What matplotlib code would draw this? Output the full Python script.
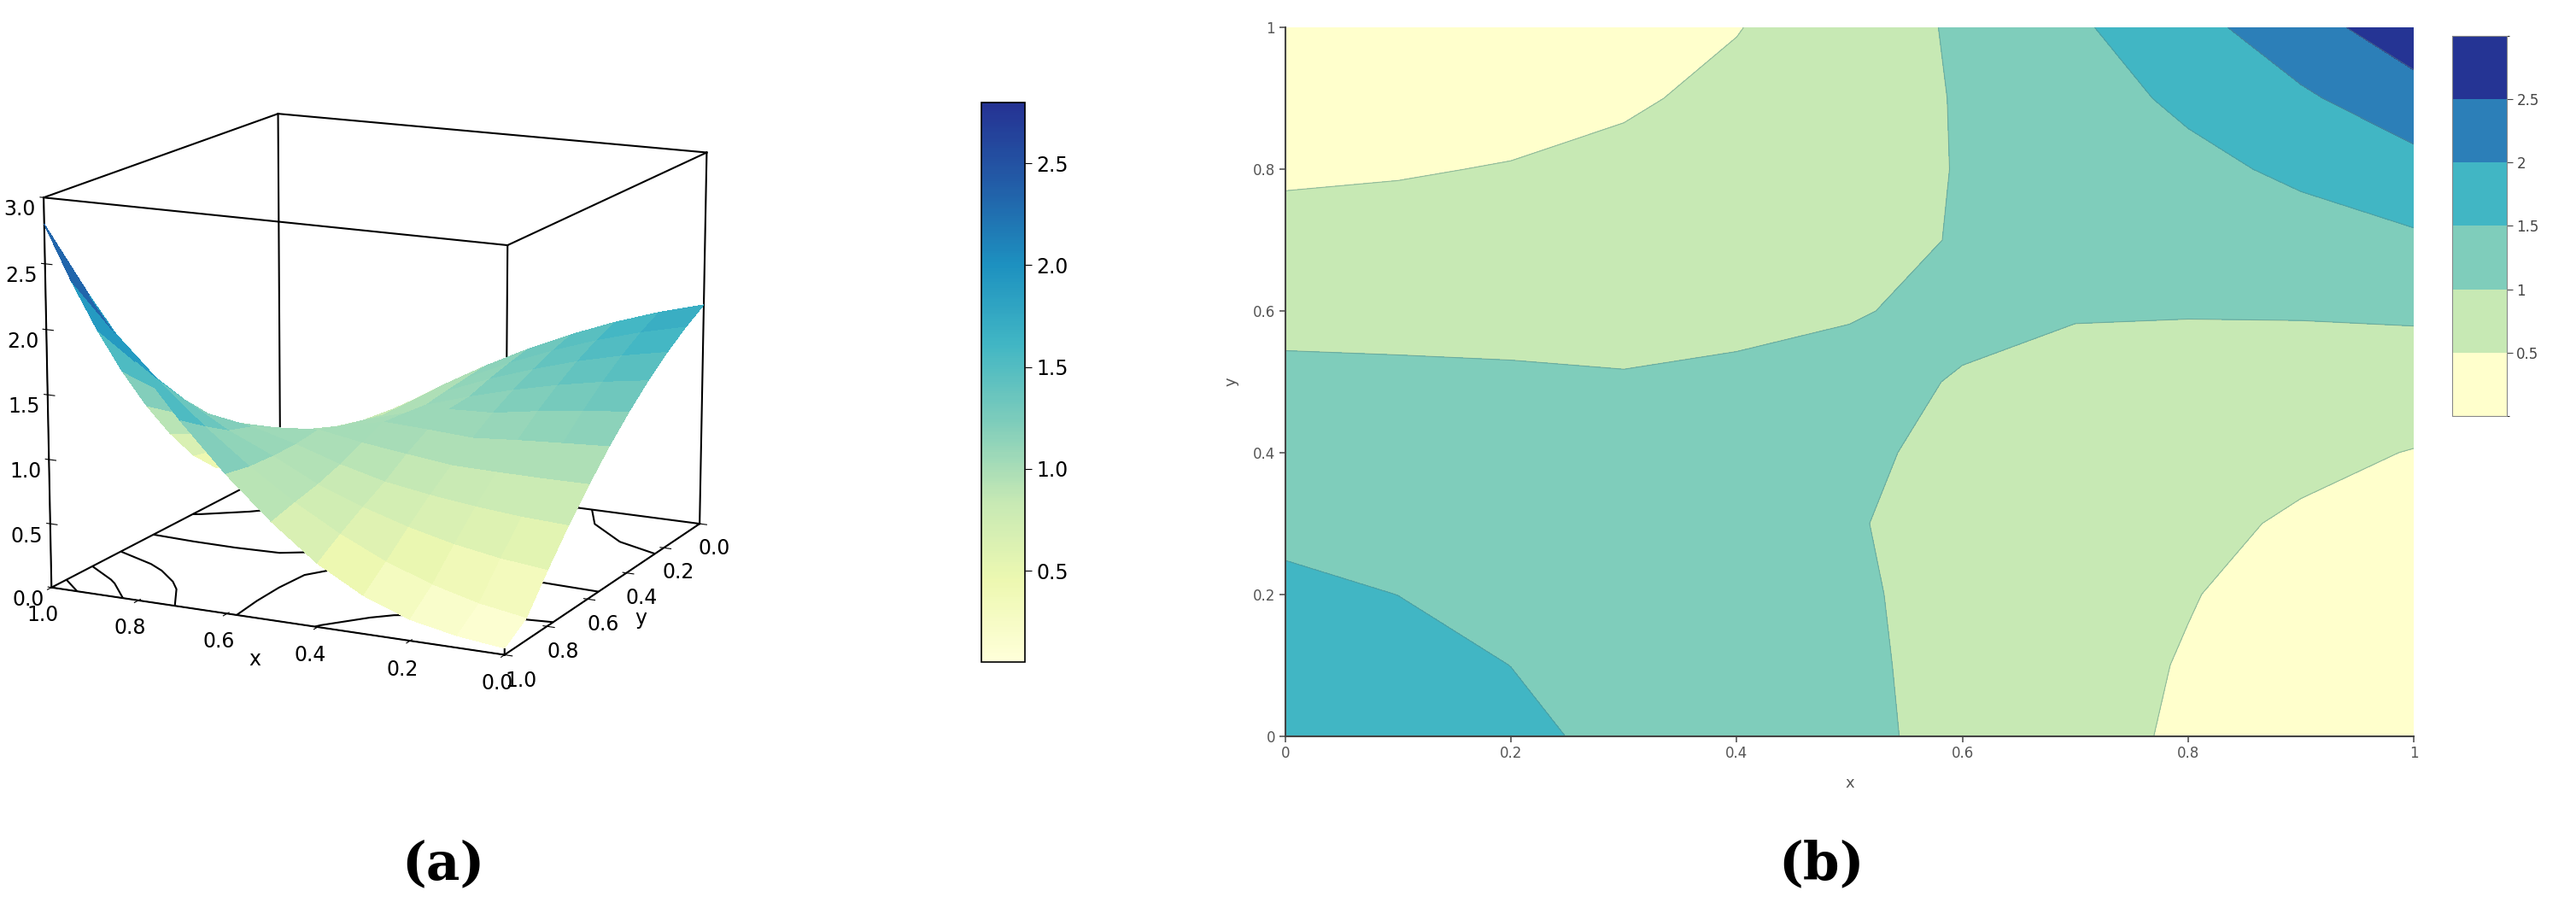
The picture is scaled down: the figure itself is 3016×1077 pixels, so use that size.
import matplotlib
matplotlib.use("Agg")
import matplotlib.pyplot as plt
import numpy as np
from matplotlib.colors import ListedColormap, BoundaryNorm
from matplotlib.cm import ScalarMappable

# grid values (rows: y = 0..1, cols: x = 0..1, step 0.1)
xs = [0.0, 0.1, 0.2, 0.3, 0.4, 0.5, 0.6, 0.7, 0.8, 0.9, 1.0]
ys = [0.0, 0.1, 0.2, 0.3, 0.4, 0.5, 0.6, 0.7, 0.8, 0.9, 1.0]
z_grid = [
    [1.785, 1.686, 1.567, 1.427, 1.268, 1.088, 0.888, 0.668, 0.427, 0.167, 0.05],
    [1.686, 1.602, 1.498, 1.374, 1.232, 1.069, 0.887, 0.686, 0.465, 0.225, 0.09],
    [1.567, 1.498, 1.412, 1.307, 1.187, 1.048, 0.891, 0.718, 0.525, 0.317, 0.16],
    [1.427, 1.374, 1.307, 1.226, 1.131, 1.022, 0.898, 0.761, 0.609, 0.443, 0.29],
    [1.268, 1.232, 1.187, 1.131, 1.117, 1.044, 0.941, 0.818, 0.716, 0.605, 0.484],
    [1.088, 1.069, 1.048, 1.022, 1.044, 1.061, 0.986, 0.908, 0.845, 0.801, 0.752],
    [0.888, 0.887, 0.891, 0.898, 0.941, 0.986, 1.046, 1.020, 1.020, 1.031, 1.067],
    [0.668, 0.686, 0.718, 0.761, 0.818, 0.908, 1.020, 1.116, 1.174, 1.295, 1.429],
    [0.427, 0.465, 0.525, 0.609, 0.716, 0.845, 1.020, 1.174, 1.372, 1.594, 1.838],
    [0.167, 0.225, 0.317, 0.443, 0.605, 0.801, 1.031, 1.295, 1.594, 1.928, 2.296],
    [0.05, 0.09, 0.16, 0.29, 0.484, 0.752, 1.067, 1.429, 1.838, 2.296, 2.80],
]
levels = [0.5, 1.0, 1.5, 2.0, 2.5]
level_labels = ["0.5", "1", "1.5", "2", "2.5"]
band_colors = ["#ffffcc", "#c7e9b4", "#7fcdbb", "#41b6c4", "#2c7fb8", "#253494"]
cbar_a_ticks = [0.5, 1.0, 1.5, 2.0, 2.5]

X, Y = np.meshgrid(xs, ys)
Z = np.array(z_grid)

base = plt.get_cmap("YlGnBu")
surf_cmap = ListedColormap(base(np.linspace(0.0, 0.88, 256)))

fig = plt.figure(figsize=(30.16, 10.77), dpi=100)

# ── (a) 3D surface ───────────────────────────────────────────────────────────
ax3 = fig.add_axes([-0.02, 0.17, 0.33, 0.84], projection="3d")
ax3.view_init(elev=14, azim=116)
ax3.set_box_aspect((1, 1, 0.8))
surf = ax3.plot_surface(X, Y, Z, cmap=surf_cmap, vmin=0.05, vmax=2.8,
                        linewidth=0, antialiased=False, shade=False,
                        rstride=1, cstride=1)
ax3.contour(X, Y, Z, levels=levels, zdir="z", offset=0, colors="black",
            linewidths=1.5)
ax3.set_xlim(0, 1)
ax3.set_ylim(0, 1)
ax3.set_zlim(0, 3)
for axis in (ax3.xaxis, ax3.yaxis, ax3.zaxis):
    axis.set_pane_color((1, 1, 1, 0))
    axis._axinfo["grid"]["linewidth"] = 0
    axis.line.set_color("black")
ax3.zaxis._axinfo["juggled"] = (1, 2, 0)
ax3.grid(False)
lo, hi, ztop = 0, 1, 3
for a in (lo, hi):
    for b in (lo, hi):
        ax3.plot([a, a], [b, b], [0, ztop], color="black", lw=1.5)
        ax3.plot([a, a], [lo, hi], [b * ztop, b * ztop], color="black", lw=1.5)
        ax3.plot([lo, hi], [a, a], [b * ztop, b * ztop], color="black", lw=1.5)
ax3.set_xticks([0, 0.2, 0.4, 0.6, 0.8, 1.0])
ax3.set_yticks([0, 0.2, 0.4, 0.6, 0.8, 1.0])
ax3.set_zticks([0, 0.5, 1.0, 1.5, 2.0, 2.5, 3.0])
fmt1 = plt.FuncFormatter(lambda v, _: f"{v:.1f}")
ax3.xaxis.set_major_formatter(fmt1)
ax3.yaxis.set_major_formatter(fmt1)
ax3.zaxis.set_major_formatter(fmt1)
ax3.tick_params(labelsize=17)
ax3.set_xlabel("x", fontsize=17)
ax3.set_ylabel("y", fontsize=17)

cax_a = fig.add_axes([0.381, 0.28, 0.017, 0.609])
cb_a = fig.colorbar(surf, cax=cax_a, ticks=cbar_a_ticks)
cb_a.ax.tick_params(labelsize=17, length=6)
cb_a.ax.yaxis.set_major_formatter(fmt1)
cb_a.outline.set_linewidth(1.2)

# ── (b) filled contour ───────────────────────────────────────────────────────
axb = fig.add_axes([0.499, 0.20, 0.438, 0.77])
fill_levels = [Z.min()] + levels + [Z.max()]
axb.contourf(X, Y, Z, levels=fill_levels, colors=band_colors)
axb.contour(X, Y, Z, levels=levels, colors="#5a8a80", linewidths=0.8, alpha=0.5)
axb.set_xlim(0, 1)
axb.set_ylim(0, 1)
axb.set_xticks([0, 0.2, 0.4, 0.6, 0.8, 1])
axb.set_yticks([0, 0.2, 0.4, 0.6, 0.8, 1])
fmtg = plt.FuncFormatter(lambda v, _: f"{v:g}")
axb.xaxis.set_major_formatter(fmtg)
axb.yaxis.set_major_formatter(fmtg)
axb.tick_params(colors="#555555", labelsize=12, length=5, width=1.2)
for side in ("top", "right"):
    axb.spines[side].set_visible(False)
for side in ("left", "bottom"):
    axb.spines[side].set_color("#444444")
    axb.spines[side].set_linewidth(1.5)
axb.set_xlabel("x", color="#555555", fontsize=13, labelpad=12)
axb.set_ylabel("y", color="#555555", fontsize=13, labelpad=12)

cax_b = fig.add_axes([0.952, 0.548, 0.021, 0.413])
bounds = [0.3] + levels + [2.75]
sm = ScalarMappable(norm=BoundaryNorm(bounds, len(band_colors)),
                    cmap=ListedColormap(band_colors))
cb_b = fig.colorbar(sm, cax=cax_b, ticks=levels)
cb_b.ax.set_yticklabels(level_labels)
cb_b.ax.tick_params(colors="#444444", labelsize=12, length=5)
cb_b.outline.set_edgecolor("#888888")

fig.text(0.172, 0.06, "(a)", fontsize=44, fontweight="bold", family="DejaVu Serif",
         ha="center", va="center")
fig.text(0.707, 0.06, "(b)", fontsize=44, fontweight="bold", family="DejaVu Serif",
         ha="center", va="center")

fig.savefig("out.png", dpi=100, facecolor="white")
